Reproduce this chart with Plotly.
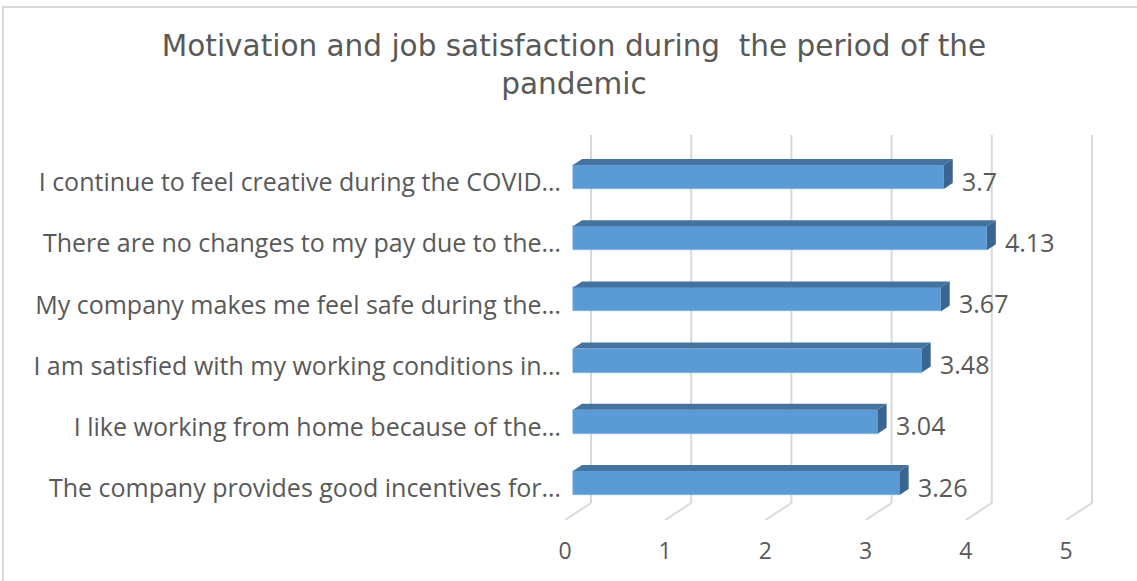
import plotly.graph_objects as go

# ---- data (bottom to top) ----
categories = [
    "The company provides good incentives for…",
    "I like working from home because of the…",
    "I am satisfied with my working conditions in…",
    "My company makes me feel safe during the…",
    "There are no changes to my pay due to the…",
    "I continue to feel creative during the COVID…",
]
values = [3.26, 3.04, 3.48, 3.67, 4.13, 3.7]
x_ticks = [0, 1, 2, 3, 4, 5]
title_text = "Motivation and job satisfaction during  the period of the<br>pandemic"

# ---- layout geometry (pixels) ----
W, H = 1137, 581
L, R, T, B = 562, 1100, 135, 522
PX_PER_X = 100.2
PX_PER_Y = 61.2
X0_PX = 573          # x=0 of bar front face
Y0_PX = 483          # centre of bottom bar front face
x_range = [(L - X0_PX) / PX_PER_X, (R - X0_PX) / PX_PER_X]
y_range = [(Y0_PX - B) / PX_PER_Y, (Y0_PX - T) / PX_PER_Y]

# depth offsets (in data units)
bar_w = 24 / PX_PER_Y
bar_dx, bar_dy = 9 / PX_PER_X, 6 / PX_PER_Y
grid_back_dx = 18 / PX_PER_X
grid_back_y = (Y0_PX - 503) / PX_PER_Y
grid_front_dx = -8 / PX_PER_X
grid_front_y = (Y0_PX - 520) / PX_PER_Y
label_dy = -5.5 / PX_PER_Y
value_dy = -3.5 / PX_PER_Y

ypos = list(range(len(categories)))

FRONT = "#5B9BD5"
TOP = "#44739F"
SIDE = "#3A6590"
TXT = "#595959"
GRID = "#D9D9D9"
FONT = "Open Sans"

fig = go.Figure()

# front faces
fig.add_trace(go.Bar(
    x=values, y=ypos, orientation="h", width=bar_w,
    marker=dict(color=FRONT, line=dict(color="#7FB2E2", width=0.5)),
    hoverinfo="skip", showlegend=False,
))

# top and side faces from the same values
for v, yc in zip(values, ypos):
    top_y = yc + bar_w / 2
    bot_y = yc - bar_w / 2
    fig.add_trace(go.Scatter(
        x=[0, v, v + bar_dx, bar_dx, 0],
        y=[top_y, top_y, top_y + bar_dy, top_y + bar_dy, top_y],
        fill="toself", fillcolor=TOP, mode="lines", line=dict(width=0, color=TOP),
        hoverinfo="skip", showlegend=False,
    ))
    fig.add_trace(go.Scatter(
        x=[v, v + bar_dx, v + bar_dx, v, v],
        y=[bot_y, bot_y + bar_dy, top_y + bar_dy, top_y, bot_y],
        fill="toself", fillcolor=SIDE, mode="lines", line=dict(width=0, color=SIDE),
        hoverinfo="skip", showlegend=False,
    ))

# value labels
for v, yc in zip(values, ypos):
    fig.add_annotation(
        x=v + 0.16, y=yc + value_dy, text=f"{v:g}", showarrow=False,
        xanchor="left", yanchor="middle",
        font=dict(family=FONT, size=25, color=TXT),
    )

# back gridlines + floor diagonals
for k in x_ticks:
    fig.add_shape(type="line", layer="below", xref="x", yref="paper",
                  x0=k + grid_back_dx, x1=k + grid_back_dx, y0=1,
                  y1=(grid_back_y - y_range[0]) / (y_range[1] - y_range[0]),
                  line=dict(color=GRID, width=2))
    fig.add_shape(type="line", layer="below", xref="x", yref="y",
                  x0=k + grid_back_dx, y0=grid_back_y,
                  x1=k + grid_front_dx, y1=grid_front_y,
                  line=dict(color=GRID, width=2))

# outer chart border
pw, ph = R - L, B - T
fig.add_shape(type="rect", xref="paper", yref="paper", layer="below",
              x0=(3 - L) / pw, x1=(W + 20 - L) / pw,
              y0=(B - (H + 20)) / ph, y1=(B - 7) / ph,
              line=dict(color="#D9D9D9", width=2), fillcolor="rgba(0,0,0,0)")

fig.update_layout(
    width=W, height=H,
    margin=dict(l=L, r=W - R, t=T, b=H - B, pad=0),
    paper_bgcolor="white", plot_bgcolor="white",
    title=dict(text=title_text, x=(574 - L) / pw, xref="paper", xanchor="center",
               y=1 - 56 / H, yref="container", yanchor="middle",
               font=dict(family="DejaVu Sans", size=29.5, color=TXT)),
    bargap=0,
    xaxis=dict(range=x_range, showgrid=False, zeroline=False, showline=False,
               tickvals=[k + grid_front_dx for k in x_ticks],
               ticktext=[str(k) for k in x_ticks],
               ticks="outside", ticklen=8, tickcolor="rgba(0,0,0,0)",
               tickfont=dict(family=FONT, size=23, color=TXT),
               fixedrange=True),
    yaxis=dict(range=y_range, showgrid=False, zeroline=False, showline=False,
               tickvals=[p + label_dy for p in ypos], ticktext=categories,
               ticks="", tickfont=dict(family=FONT, size=25, color=TXT),
               fixedrange=True),
)

fig.write_html("out.html", config={"displayModeBar": False},
               post_script="document.body.style.margin='0px';")
